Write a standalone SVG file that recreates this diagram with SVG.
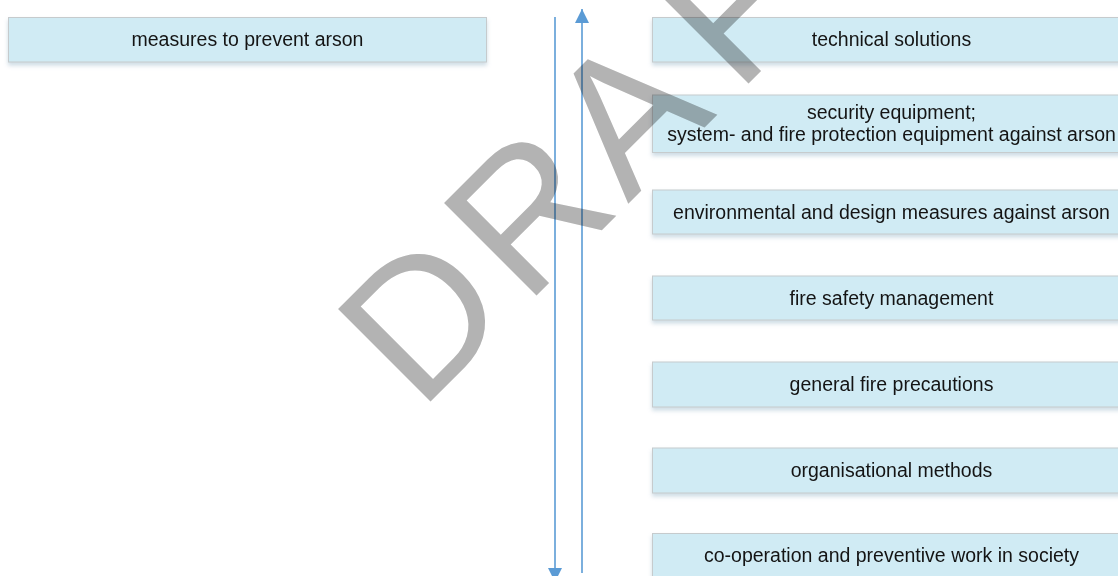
<svg xmlns="http://www.w3.org/2000/svg" width="1118" height="576" viewBox="0 0 1118 576">
  <style>
    .box { fill: #d0ebf4; stroke: #c6cbcd; stroke-width: 1; filter: url(#shadow); }
    .lbl { font-family: "Liberation Sans", Arial, sans-serif; font-size: 19.5px; fill: #141414; text-anchor: middle; }
    .conn { stroke: #5b9bd5; stroke-width: 1.6; fill: none; }
    .wm { font-family: "Liberation Sans", Arial, sans-serif; font-size: 190px; fill: #b3b3b3; mix-blend-mode: multiply; }
  </style>
  <defs>
    <filter id="shadow" x="-5%" y="-30%" width="110%" height="170%">
      <feDropShadow dx="0" dy="3" stdDeviation="2.2" flood-color="#8fb0c4" flood-opacity="0.45"/>
    </filter>
    <marker id="arrow" viewBox="0 0 14 14" refX="14" refY="7" markerWidth="14" markerHeight="14" markerUnits="userSpaceOnUse" orient="auto">
      <path d="M0,0 L14,7 L0,14 z" fill="#5b9bd5"/>
    </marker>
  </defs>
  <rect width="1118" height="576" fill="#ffffff"/>

  <g id="node-measures">
    <rect class="box" x="8.5" y="17.5" width="478" height="44.5"/>
    <text class="lbl" x="247.5" y="46">measures to prevent arson</text>
  </g>
  <g id="node-technical">
    <rect class="box" x="652.5" y="17.5" width="478" height="44.5"/>
    <text class="lbl" x="891.5" y="46">technical solutions</text>
  </g>
  <g id="node-security">
    <rect class="box" x="652.5" y="95" width="478" height="57.5"/>
    <text class="lbl" x="891.5" y="119">security equipment;</text>
    <text class="lbl" x="891.5" y="141">system- and fire protection equipment against arson</text>
  </g>
  <g id="node-environmental">
    <rect class="box" x="652.5" y="190" width="478" height="44"/>
    <text class="lbl" x="891.5" y="218.5">environmental and design measures against arson</text>
  </g>
  <g id="node-fire-safety">
    <rect class="box" x="652.5" y="276" width="478" height="44"/>
    <text class="lbl" x="891.5" y="304.5">fire safety management</text>
  </g>
  <g id="node-general">
    <rect class="box" x="652.5" y="362" width="478" height="45"/>
    <text class="lbl" x="891.5" y="391">general fire precautions</text>
  </g>
  <g id="node-organisational">
    <rect class="box" x="652.5" y="448" width="478" height="45"/>
    <text class="lbl" x="891.5" y="477">organisational methods</text>
  </g>
  <g id="node-cooperation">
    <rect class="box" x="652.5" y="533.5" width="478" height="45"/>
    <text class="lbl" x="891.5" y="562">co-operation and preventive work in society</text>
  </g>

  <g id="connectors">
    <line class="conn" x1="555" y1="17" x2="555" y2="582" marker-end="url(#arrow)"/>
    <line class="conn" x1="582" y1="573" x2="582" y2="9" marker-end="url(#arrow)"/>
  </g>

  <g id="watermark">
    <text class="wm" transform="translate(430,402) rotate(-45)" x="-15 135 280 435 561" y="0">DRAFT</text>
  </g>
</svg>
